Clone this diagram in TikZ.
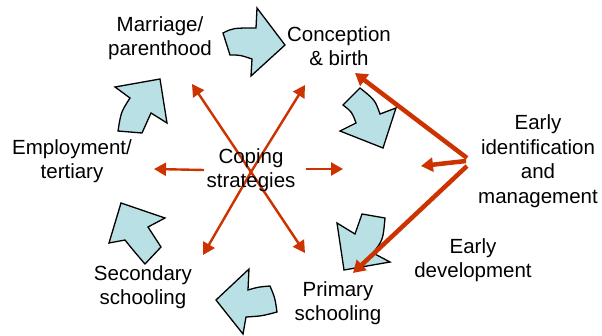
\documentclass[tikz,border=0pt]{standalone}
\usepackage{fontspec}
\setmainfont{Liberation Sans}
\usetikzlibrary{arrows.meta}
\definecolor{cyc}{RGB}{185,224,228}
\definecolor{redc}{RGB}{204,51,0}
\tikzset{
  cycshape/.style={fill=cyc, draw=black, line width=1.3pt, line join=miter},
  lbl/.style={align=center, inner sep=0pt, font=\fontsize{20.5}{24.5}\selectfont},
  thinarr/.style={draw=redc, line width=2.4pt, -{Triangle[length=12pt,width=13pt]}},
  thickarr/.style={draw=redc, line width=4.5pt, -{Triangle[length=12pt,width=14pt]}}
}
\begin{document}
\begin{tikzpicture}[x=1pt,y=-1pt]
\useasboundingbox (0,0) rectangle (602,335);
% cycle arrows
\draw[cycshape] (223,33) .. controls (233,28) .. (256,28) -- (257,8) -- (285,45) -- (251,76) -- (252,59) .. controls (240,55) .. (230,55) -- cycle;
\draw[cycshape] (360,88) -- (343,105) .. controls (352,112) .. (356,123) -- (340,131) -- (383,148) -- (396,108) -- (380,114) .. controls (375,100) .. (360,88) -- cycle;
\draw[cycshape] (362,214) -- (385,218) .. controls (383,240) .. (373,253) -- (390,262) -- (344,270) -- (337,223) -- (355,234) -- cycle;
\draw[cycshape] (270,286) .. controls (258,287) .. (248,290) -- (249,269) -- (216,300) -- (243,334) -- (246,317) .. controls (262,316) .. (277,312) .. controls (275,298) .. (270,286) -- cycle;
\draw[cycshape] (121,203) -- (165,218) -- (148,227) -- (161,247) -- (145,264) .. controls (133,250) .. (125,240) -- (109,243) -- cycle;
\draw[cycshape] (115,87) -- (160,79) -- (167,123) -- (151,113) -- (142,133) -- (118,131) .. controls (121,112) .. (130,98) -- cycle;
% label nodes
\node[lbl] (mar) at (160,38) {Marriage/\\parenthood};
\node[lbl] (con) at (339,46) {Conception\\\& birth};
\node[lbl] (emp) at (72,161) {Employment/\\tertiary};
\node[lbl] (sec) at (143,287) {Secondary\\schooling};
\node[lbl] (pri) at (338,303) {Primary\\schooling};
\node[lbl] (edv) at (473,260) {Early\\development};
\node[lbl] (eim) at (538,161) {Early\\identification\\and\\management};
% coping arrows
\coordinate (c) at (251,172);
\coordinate (lS) at (204,170);
\coordinate (rS) at (306,169);
\coordinate (tUL) at (192,84);
\coordinate (tUR) at (305,85);
\coordinate (tL) at (154,169);
\coordinate (tR) at (343,169);
\coordinate (tLL) at (203,255);
\coordinate (tLR) at (305,253);
\draw[thinarr] (c) -- (tUL);
\draw[thinarr] (c) -- (tUR);
\draw[thinarr] (c) -- (tLL);
\draw[thinarr] (c) -- (tLR);
\draw[thinarr] (lS) -- (tL);
\draw[thinarr] (rS) -- (tR);
% early identification arrows
\coordinate (s1) at (467,158);
\coordinate (s2) at (467,166);
\coordinate (s3) at (466,161);
\coordinate (tCon) at (355,73);
\coordinate (tMid) at (421,166);
\coordinate (tPri) at (353,273);
\draw[thickarr] (s1) -- (tCon);
\draw[thickarr] (s3) -- (tMid);
\draw[thickarr] (s2) -- (tPri);
\node[lbl] (cop) at (251,170) {Coping\\strategies};
\end{tikzpicture}
\end{document}
